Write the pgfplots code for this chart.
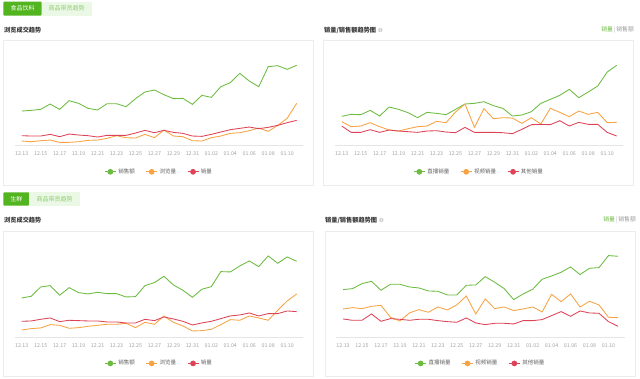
\documentclass[border=0pt]{standalone}
\usepackage{fontspec}
\setmainfont{Noto Sans CJK SC}
\usepackage{pgfplots}
\usepackage{pgfplotstable}
\pgfplotsset{compat=1.18}
\definecolor{cg}{RGB}{108,188,64}
\definecolor{co}{RGB}{247,163,67}
\definecolor{cr}{RGB}{222,66,86}
\definecolor{tabg}{RGB}{82,180,30}
\definecolor{tabl}{RGB}{236,248,230}
\definecolor{tabt}{RGB}{140,205,110}
\definecolor{titlec}{RGB}{55,55,55}
\definecolor{tickc}{RGB}{165,165,165}
\definecolor{legc}{RGB}{100,100,100}
\definecolor{cardc}{RGB}{236,236,236}

\pgfplotstableread{
d g o r
0 104 14 30
1 106 12 29
2 109 15 29
3 125 17 34
4 109 10 27
5 135 10 35
6 127 12 32
7 112 16 30
8 107 17 26
9 126 22 31
10 126 30 31
11 117 24 31
12 141 23 38
13 161 34 46
14 167 24 39
15 153 47 46
16 141 29 40
17 142 27 37
18 124 15 29
19 151 14 28
20 145 24 34
21 177 29 41
22 189 37 48
23 217 39 52
24 194 45 56
25 177 53 51
26 237 43 55
27 240 61 61
28 229 82 69
29 241 127 76
}\tA

\pgfplotstableread{
d g o r
0 88 72 59
1 94 57 40
2 93 59 40
3 106 69 48
4 89 57 40
5 116 47 47
6 109 44 44
7 99 51 42
8 84 57 40
9 100 59 44
10 97 73 45
11 93 69 41
12 109 101 39
13 125 125 55
14 127 55 40
15 132 111 40
16 120 81 40
17 112 84 39
18 89 83 36
19 92 67 49
20 102 84 63
21 127 65 64
22 139 112 63
23 151 100 75
24 169 87 59
25 144 104 70
26 161 94 64
27 179 100 64
28 221 69 40
29 241 70 29
}\tB

\pgfplotstableread{
d g o r
0 118 22 48
1 123 26 49
2 151 28 54
3 155 38 58
4 126 36 47
5 149 27 51
6 134 29 50
7 130 33 49
8 135 36 49
9 131 39 46
10 131 39 46
11 121 42 43
12 122 29 43
13 155 45 54
14 164 39 50
15 183 64 61
16 157 45 55
17 141 34 48
18 120 19 37
19 144 20 43
20 152 24 48
21 197 38 56
22 196 53 64
23 214 51 67
24 229 64 73
25 212 58 64
26 244 51 71
27 222 81 71
28 241 109 79
29 228 130 77
}\tC

\pgfplotstableread{
d g o r
0 143 85 55
1 146 89 51
2 161 86 51
3 168 93 70
4 141 96 48
5 159 60 56
6 159 49 54
7 151 73 51
8 148 83 54
9 139 75 54
10 138 91 50
11 127 82 47
12 127 97 45
13 156 124 58
14 157 70 43
15 182 115 38
16 165 86 42
17 146 91 42
18 113 80 40
19 130 85 50
20 144 91 50
21 174 76 53
22 184 129 65
23 195 107 77
24 211 130 63
25 188 91 79
26 207 108 73
27 209 97 72
28 245 60 47
29 243 59 33
}\tD

\pgfplotsset{panel/.style={
  scale only axis, width=288.2pt, height=96.7pt, anchor=south west,
  xmin=-0.7, xmax=29.7, ymin=0, ymax=290,
  axis x line*=bottom, axis y line=none,
  axis line style={draw=black!10},
  xtick={0,2,...,28},
  xticklabels={12.13,12.15,12.17,12.19,12.21,12.23,12.25,12.27,12.29,12.31,01.02,01.04,01.06,01.08,01.10},
  major tick length=0pt,
  xticklabel style={font=\fontsize{5.3}{6}\selectfont, text=tickc, yshift=-2.5pt},
  legend style={draw=none, fill=none, legend columns=3, at={(0.5,-0.27)}, anchor=center,
    font=\fontsize{5.5}{6}\selectfont, text=legc,
    /tikz/every even column/.append style={column sep=9pt}},
  legend image code/.code={\draw[##1] (0pt,0pt) -- (11pt,0pt); \fill[##1] (5.5pt,0pt) circle (2.4pt);},
  every axis plot/.append style={line width=0.85pt, mark=none},
}}

\begin{document}
\begin{tikzpicture}[x=1pt,y=1pt]
\fill[white] (0,0) rectangle (640,378);
% cards
\draw[cardc, line width=0.6pt] (3.3,193) rectangle (313.3,338);
\draw[cardc, line width=0.6pt] (323.3,193) rectangle (633.3,338);
\draw[cardc, line width=0.6pt] (3.3,1.3) rectangle (313.3,146.3);
\draw[cardc, line width=0.6pt] (325,1.3) rectangle (635,146.3);
% top tabs
\fill[tabg, rounded corners=1pt] (3.3,362.3) rectangle (41.7,376.3);
\node[text=white, font=\fontsize{6}{7}\selectfont] at (22.5,369.3) {食品饮料};
\fill[tabl] (41.7,362.3) rectangle (91.7,376.3);
\node[text=tabt, font=\fontsize{6}{7}\selectfont] at (66.7,369.3) {商品带货趋势};
% bottom tabs
\fill[tabg, rounded corners=1pt] (3.3,172.3) rectangle (29.3,185.7);
\node[text=white, font=\fontsize{6}{7}\selectfont] at (16.3,179) {生鲜};
\fill[tabl] (29.3,172.3) rectangle (80,185.7);
\node[text=tabt, font=\fontsize{6}{7}\selectfont] at (54.6,179) {商品带货趋势};
% titles
\node[anchor=west, inner sep=0, text=titlec, font=\fontsize{6.2}{7}\selectfont\bfseries] (t2) at (324,348) {销量/销售额趋势图};
\fill[black!18] ([xshift=4pt]t2.east) circle (2.2pt);
\node[text=white, font=\fontsize{3.5}{4}\selectfont\bfseries, inner sep=0] at ([xshift=4pt]t2.east) {i};
\node[anchor=west, inner sep=0, text=titlec, font=\fontsize{6.2}{7}\selectfont\bfseries] at (4,348) {浏览成交趋势};
\node[anchor=east, inner sep=0, font=\fontsize{5.8}{7}\selectfont] at (634,348) {\textcolor{cg}{销量}\,\textcolor{black!30}{|}\,\textcolor{black!40}{销售额}};
\node[anchor=west, inner sep=0, text=titlec, font=\fontsize{6.2}{7}\selectfont\bfseries] at (4,158) {浏览成交趋势};
\node[anchor=west, inner sep=0, text=titlec, font=\fontsize{6.2}{7}\selectfont\bfseries] (t4) at (325,158) {销量/销售额趋势图};
\fill[black!18] ([xshift=4pt]t4.east) circle (2.2pt);
\node[text=white, font=\fontsize{3.5}{4}\selectfont\bfseries, inner sep=0] at ([xshift=4pt]t4.east) {i};
\node[anchor=east, inner sep=0, font=\fontsize{5.8}{7}\selectfont] at (636,158) {\textcolor{cg}{销量}\,\textcolor{black!30}{|}\,\textcolor{black!40}{销售额}};

\begin{axis}[panel, at={(15.1pt,232.3pt)}]
\addplot[cg] table[x=d,y=g] {\tA}; \addlegendentry{销售额}
\addplot[co] table[x=d,y=o] {\tA}; \addlegendentry{浏览量}
\addplot[cr] table[x=d,y=r] {\tA}; \addlegendentry{销量}
\end{axis}

\begin{axis}[panel, at={(335.1pt,232.3pt)}]
\addplot[cg] table[x=d,y=g] {\tB}; \addlegendentry{直播销量}
\addplot[co] table[x=d,y=o] {\tB}; \addlegendentry{视频销量}
\addplot[cr] table[x=d,y=r] {\tB}; \addlegendentry{其他销量}
\end{axis}

\begin{axis}[panel, at={(15.1pt,40.7pt)}]
\addplot[cg] table[x=d,y=g] {\tC}; \addlegendentry{销售额}
\addplot[co] table[x=d,y=o] {\tC}; \addlegendentry{浏览量}
\addplot[cr] table[x=d,y=r] {\tC}; \addlegendentry{销量}
\end{axis}

\begin{axis}[panel, at={(336.4pt,40.7pt)}]
\addplot[cg] table[x=d,y=g] {\tD}; \addlegendentry{直播销量}
\addplot[co] table[x=d,y=o] {\tD}; \addlegendentry{视频销量}
\addplot[cr] table[x=d,y=r] {\tD}; \addlegendentry{其他销量}
\end{axis}
\end{tikzpicture}
\end{document}
